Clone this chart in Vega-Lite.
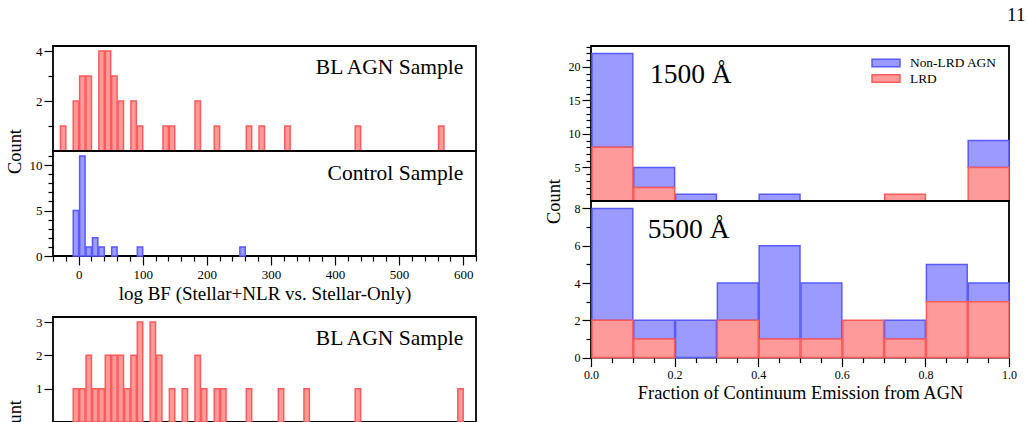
{
  "$schema": "https://vega.github.io/schema/vega-lite/v6.json",
  "padding": {"left": 4, "top": 5, "right": 5, "bottom": 5},
  "config": {
    "font": "Liberation Serif",
    "view": {"stroke": "black", "strokeWidth": 1.8},
    "axis": {
      "domain": false,
      "grid": false,
      "tickColor": "black",
      "tickWidth": 1.2,
      "labelColor": "black",
      "labelFont": "Liberation Serif",
      "titleFont": "Liberation Serif",
      "titleFontWeight": "normal",
      "titleColor": "black",
      "labelFlush": false,
      "labelOverlap": false,
      "labelPadding": 2
    },
    "text": {"font": "Liberation Serif", "color": "black"}
  },
  "title": {"text": "11", "anchor": "end", "frame": "bounds", "fontSize": 19, "font": "Liberation Serif", "fontWeight": "normal", "color": "black", "offset": 15, "dx": 8},
  "datasets": {
    "blAgnUpper": [
      {"lo": -30, "hi": -20, "count": 1},
      {"lo": -10, "hi": 0, "count": 2},
      {"lo": 0, "hi": 10, "count": 3},
      {"lo": 10, "hi": 20, "count": 3},
      {"lo": 30, "hi": 40, "count": 4},
      {"lo": 40, "hi": 50, "count": 4},
      {"lo": 50, "hi": 60, "count": 3},
      {"lo": 60, "hi": 70, "count": 2},
      {"lo": 80, "hi": 90, "count": 2},
      {"lo": 90, "hi": 100, "count": 1},
      {"lo": 130, "hi": 140, "count": 1},
      {"lo": 140, "hi": 150, "count": 1},
      {"lo": 180, "hi": 190, "count": 2},
      {"lo": 210, "hi": 220, "count": 1},
      {"lo": 260, "hi": 270, "count": 1},
      {"lo": 280, "hi": 290, "count": 1},
      {"lo": 320, "hi": 330, "count": 1},
      {"lo": 430, "hi": 440, "count": 1},
      {"lo": 560, "hi": 570, "count": 1}
    ],
    "control": [
      {"lo": -10, "hi": 0, "count": 5},
      {"lo": 0, "hi": 10, "count": 11},
      {"lo": 10, "hi": 20, "count": 1},
      {"lo": 20, "hi": 30, "count": 2},
      {"lo": 30, "hi": 40, "count": 1},
      {"lo": 50, "hi": 60, "count": 1},
      {"lo": 90, "hi": 100, "count": 1},
      {"lo": 250, "hi": 260, "count": 1}
    ],
    "blAgnLower": [
      {"lo": -10, "hi": 0, "count": 1},
      {"lo": 0, "hi": 10, "count": 1},
      {"lo": 10, "hi": 20, "count": 2},
      {"lo": 20, "hi": 30, "count": 1},
      {"lo": 30, "hi": 40, "count": 1},
      {"lo": 40, "hi": 50, "count": 2},
      {"lo": 50, "hi": 60, "count": 2},
      {"lo": 60, "hi": 70, "count": 2},
      {"lo": 70, "hi": 80, "count": 1},
      {"lo": 80, "hi": 90, "count": 2},
      {"lo": 90, "hi": 100, "count": 3},
      {"lo": 110, "hi": 120, "count": 3},
      {"lo": 120, "hi": 130, "count": 2},
      {"lo": 140, "hi": 150, "count": 1},
      {"lo": 160, "hi": 170, "count": 1},
      {"lo": 180, "hi": 190, "count": 2},
      {"lo": 190, "hi": 200, "count": 1},
      {"lo": 210, "hi": 220, "count": 1},
      {"lo": 220, "hi": 230, "count": 1},
      {"lo": 260, "hi": 270, "count": 1},
      {"lo": 310, "hi": 320, "count": 1},
      {"lo": 350, "hi": 360, "count": 1},
      {"lo": 430, "hi": 440, "count": 1},
      {"lo": 590, "hi": 600, "count": 1}
    ],
    "frac1500": [
      {"sample": "Non-LRD AGN", "lo": 0.0, "hi": 0.1, "count": 14},
      {"sample": "Non-LRD AGN", "lo": 0.1, "hi": 0.2, "count": 3},
      {"sample": "Non-LRD AGN", "lo": 0.2, "hi": 0.3, "count": 1},
      {"sample": "Non-LRD AGN", "lo": 0.4, "hi": 0.5, "count": 1},
      {"sample": "Non-LRD AGN", "lo": 0.9, "hi": 1.0, "count": 4},
      {"sample": "LRD", "lo": 0.0, "hi": 0.1, "count": 8},
      {"sample": "LRD", "lo": 0.1, "hi": 0.2, "count": 2},
      {"sample": "LRD", "lo": 0.7, "hi": 0.8, "count": 1},
      {"sample": "LRD", "lo": 0.9, "hi": 1.0, "count": 5}
    ],
    "frac5500": [
      {"sample": "Non-LRD AGN", "lo": 0.0, "hi": 0.1, "count": 6},
      {"sample": "Non-LRD AGN", "lo": 0.1, "hi": 0.2, "count": 1},
      {"sample": "Non-LRD AGN", "lo": 0.2, "hi": 0.3, "count": 2},
      {"sample": "Non-LRD AGN", "lo": 0.3, "hi": 0.4, "count": 2},
      {"sample": "Non-LRD AGN", "lo": 0.4, "hi": 0.5, "count": 5},
      {"sample": "Non-LRD AGN", "lo": 0.5, "hi": 0.6, "count": 3},
      {"sample": "Non-LRD AGN", "lo": 0.7, "hi": 0.8, "count": 1},
      {"sample": "Non-LRD AGN", "lo": 0.8, "hi": 0.9, "count": 2},
      {"sample": "Non-LRD AGN", "lo": 0.9, "hi": 1.0, "count": 1},
      {"sample": "LRD", "lo": 0.0, "hi": 0.1, "count": 2},
      {"sample": "LRD", "lo": 0.1, "hi": 0.2, "count": 1},
      {"sample": "LRD", "lo": 0.3, "hi": 0.4, "count": 2},
      {"sample": "LRD", "lo": 0.4, "hi": 0.5, "count": 1},
      {"sample": "LRD", "lo": 0.5, "hi": 0.6, "count": 1},
      {"sample": "LRD", "lo": 0.6, "hi": 0.7, "count": 2},
      {"sample": "LRD", "lo": 0.7, "hi": 0.8, "count": 1},
      {"sample": "LRD", "lo": 0.8, "hi": 0.9, "count": 3},
      {"sample": "LRD", "lo": 0.9, "hi": 1.0, "count": 3}
    ]
  },
  "spacing": 65,
  "hconcat": [
    {
      "bounds": "flush",
      "spacing": 0,
      "vconcat": [
        {
          "width": 423,
          "height": 105,
          "data": {"name": "blAgnUpper"},
          "resolve": {"axis": {"x": "independent", "y": "independent"}},
          "layer": [
            {
              "mark": {"type": "bar", "fill": "#ff9a9a", "stroke": "#ff5a5a", "strokeWidth": 1.5},
              "encoding": {
                "x": {"field": "lo", "type": "quantitative", "bin": "binned", "scale": {"domain": [-40, 620], "nice": false, "zero": false}, "axis": null},
                "x2": {"field": "hi"},
                "y": {
                  "field": "count", "type": "quantitative",
                  "scale": {"domain": [0, 4.2], "nice": false},
                  "axis": {
                    "orient": "left",
                    "values": [1, 2, 3, 4],
                    "labelExpr": "datum.value % 2 === 0 ? datum.label : ''",
                    "tickSize": {"condition": {"test": "datum.value % 2 === 0", "value": 9}, "value": 5},
                    "labelFontSize": 13,
                    "title": "Count",
                    "titleFontSize": 18.4,
                    "titleAngle": 270,
                    "titleAlign": "center",
                    "titleBaseline": "top",
                    "titleX": -48,
                    "titleY": 105
                  }
                }
              }
            },
            {
              "data": {"values": [{}]},
              "mark": {"type": "text", "align": "right", "baseline": "alphabetic", "fontSize": 21.5, "text": "BL AGN Sample"},
              "encoding": {
                "x": {"datum": 600, "type": "quantitative", "axis": null},
                "y": {"datum": 3.09, "type": "quantitative", "axis": null}
              }
            }
          ]
        },
        {
          "width": 423,
          "height": 105,
          "data": {"name": "control"},
          "resolve": {"axis": {"x": "independent", "y": "independent"}},
          "layer": [
            {
              "mark": {"type": "bar", "fill": "#9a9aff", "stroke": "#5a5aff", "strokeWidth": 1.5},
              "encoding": {
                "x": {
                  "field": "lo", "type": "quantitative", "bin": "binned",
                  "scale": {"domain": [-40, 620], "nice": false, "zero": false},
                  "axis": {
                    "orient": "bottom",
                    "values": [-40, -20, 0, 20, 40, 60, 80, 100, 120, 140, 160, 180, 200, 220, 240, 260, 280, 300, 320, 340, 360, 380, 400, 420, 440, 460, 480, 500, 520, 540, 560, 580, 600, 620],
                    "labelExpr": "datum.value % 100 === 0 ? datum.label : ''",
                    "tickSize": {"condition": {"test": "datum.value % 100 === 0", "value": 9}, "value": 5},
                    "labelFontSize": 13,
                    "labelPadding": 3,
                    "title": "log BF (Stellar+NLR vs. Stellar-Only)",
                    "titleFontSize": 19,
                    "titlePadding": 3
                  }
                },
                "x2": {"field": "hi"},
                "y": {
                  "field": "count", "type": "quantitative",
                  "scale": {"domain": [0, 11.55], "nice": false},
                  "axis": {
                    "orient": "left",
                    "values": [0, 1, 2, 3, 4, 5, 6, 7, 8, 9, 10, 11],
                    "labelExpr": "datum.value % 5 === 0 ? datum.label : ''",
                    "tickSize": {"condition": {"test": "datum.value % 5 === 0", "value": 9}, "value": 5},
                    "labelFontSize": 13,
                    "title": null
                  }
                }
              }
            },
            {
              "data": {"values": [{}]},
              "mark": {"type": "text", "align": "right", "baseline": "alphabetic", "fontSize": 21.5, "text": "Control Sample"},
              "encoding": {
                "x": {"datum": 600, "type": "quantitative", "axis": null},
                "y": {"datum": 8.4, "type": "quantitative", "axis": null}
              }
            }
          ]
        },
        {
          "width": 423,
          "height": 61,
          "view": {"stroke": null},
          "data": {"values": [{}]},
          "mark": {"type": "text", "text": ""},
          "encoding": {}
        },
        {
          "width": 423,
          "height": 105,
          "data": {"name": "blAgnLower"},
          "resolve": {"axis": {"x": "independent", "y": "independent"}},
          "layer": [
            {
              "mark": {"type": "bar", "fill": "#ff9a9a", "stroke": "#ff5a5a", "strokeWidth": 1.5},
              "encoding": {
                "x": {"field": "lo", "type": "quantitative", "bin": "binned", "scale": {"domain": [-40, 620], "nice": false, "zero": false}, "axis": null},
                "x2": {"field": "hi"},
                "y": {
                  "field": "count", "type": "quantitative",
                  "scale": {"domain": [0, 3.15], "nice": false},
                  "axis": {
                    "orient": "left",
                    "values": [1, 2, 3],
                    "tickSize": 9,
                    "labelFontSize": 13,
                    "title": "Count",
                    "titleFontSize": 18.4,
                    "titleAngle": 270,
                    "titleAlign": "center",
                    "titleBaseline": "top",
                    "titleX": -48,
                    "titleY": 105
                  }
                }
              }
            },
            {
              "data": {"values": [{}]},
              "mark": {"type": "text", "align": "right", "baseline": "alphabetic", "fontSize": 21.5, "text": "BL AGN Sample"},
              "encoding": {
                "x": {"datum": 600, "type": "quantitative", "axis": null},
                "y": {"datum": 2.32, "type": "quantitative", "axis": null}
              }
            }
          ]
        }
      ]
    },
    {
      "bounds": "flush",
      "spacing": 0,
      "resolve": {"scale": {"fill": "independent", "stroke": "independent"}},
      "vconcat": [
        {
          "width": 418,
          "height": 155,
          "data": {"name": "frac1500"},
          "resolve": {"axis": {"x": "independent", "y": "independent"}},
          "layer": [
            {
              "mark": {"type": "bar", "strokeWidth": 1.5},
              "encoding": {
                "x": {"field": "lo", "type": "quantitative", "bin": "binned", "scale": {"domain": [0, 1], "nice": false, "zero": false}, "axis": null},
                "x2": {"field": "hi"},
                "y": {
                  "field": "count", "type": "quantitative", "stack": "zero",
                  "scale": {"domain": [0, 23.1], "nice": false},
                  "axis": {
                    "orient": "left",
                    "values": [1, 2, 3, 4, 5, 6, 7, 8, 9, 10, 11, 12, 13, 14, 15, 16, 17, 18, 19, 20, 21, 22, 23],
                    "labelExpr": "datum.value % 5 === 0 ? datum.label : ''",
                    "tickSize": {"condition": {"test": "datum.value % 5 === 0", "value": 9}, "value": 5},
                    "labelFontSize": 12,
                    "title": "Count",
                    "titleFontSize": 18.4,
                    "titleAngle": 270,
                    "titleAlign": "center",
                    "titleBaseline": "top",
                    "titleX": -46.5,
                    "titleY": 155
                  }
                },
                "order": {"field": "sample", "type": "nominal", "sort": "ascending"},
                "fill": {
                  "field": "sample", "type": "nominal",
                  "scale": {"domain": ["Non-LRD AGN", "LRD"], "range": ["#9a9aff", "#ff9a9a"]},
                  "legend": {
                    "orient": "none", "legendX": 288, "legendY": 10, "title": null, "padding": 0,
                    "symbolType": "M-2.33,-0.64H2.33V0.64H-2.33Z", "symbolSize": 144, "symbolStrokeWidth": 1.5, "symbolOpacity": 1,
                    "labelFont": "Liberation Serif", "labelFontSize": 13.4, "labelColor": "black", "labelOffset": 17, "rowPadding": 1.5
                  }
                },
                "stroke": {
                  "field": "sample", "type": "nominal",
                  "scale": {"domain": ["Non-LRD AGN", "LRD"], "range": ["#5a5aff", "#ff5a5a"]},
                  "legend": {
                    "orient": "none", "legendX": 288, "legendY": 10, "title": null, "padding": 0,
                    "symbolType": "M-2.33,-0.64H2.33V0.64H-2.33Z", "symbolSize": 144, "symbolStrokeWidth": 1.5, "symbolOpacity": 1,
                    "labelFont": "Liberation Serif", "labelFontSize": 13.4, "labelColor": "black", "labelOffset": 17, "rowPadding": 1.5
                  }
                }
              }
            },
            {
              "data": {"values": [{}]},
              "mark": {"type": "text", "align": "left", "baseline": "alphabetic", "fontSize": 27.5, "text": "1500 Å"},
              "encoding": {
                "x": {"datum": 0.141, "type": "quantitative", "axis": null},
                "y": {"datum": 17.65, "type": "quantitative", "axis": null}
              }
            }
          ]
        },
        {
          "width": 418,
          "height": 156.6,
          "data": {"name": "frac5500"},
          "resolve": {"axis": {"x": "independent", "y": "independent"}},
          "layer": [
            {
              "mark": {"type": "bar", "strokeWidth": 1.5},
              "encoding": {
                "x": {
                  "field": "lo", "type": "quantitative", "bin": "binned",
                  "scale": {"domain": [0, 1], "nice": false, "zero": false},
                  "axis": {
                    "orient": "bottom",
                    "values": [0, 0.05, 0.1, 0.15, 0.2, 0.25, 0.3, 0.35, 0.4, 0.45, 0.5, 0.55, 0.6, 0.65, 0.7, 0.75, 0.8, 0.85, 0.9, 0.95, 1],
                    "labelExpr": "abs(datum.value * 5 - round(datum.value * 5)) < 0.001 ? format(datum.value, '.1f') : ''",
                    "tickSize": {"condition": {"test": "abs(datum.value * 5 - round(datum.value * 5)) < 0.001", "value": 9}, "value": 5},
                    "labelFontSize": 12,
                    "labelPadding": 3,
                    "title": "Fraction of Continuum Emission from AGN",
                    "titleFontSize": 18.4,
                    "titlePadding": 3
                  }
                },
                "x2": {"field": "hi"},
                "y": {
                  "field": "count", "type": "quantitative", "stack": "zero",
                  "scale": {"domain": [0, 8.4], "nice": false},
                  "axis": {
                    "orient": "left",
                    "values": [0, 1, 2, 3, 4, 5, 6, 7, 8],
                    "labelExpr": "datum.value % 2 === 0 ? datum.label : ''",
                    "tickSize": {"condition": {"test": "datum.value % 2 === 0", "value": 9}, "value": 5},
                    "labelFontSize": 12,
                    "title": null
                  }
                },
                "order": {"field": "sample", "type": "nominal", "sort": "ascending"},
                "fill": {
                  "field": "sample", "type": "nominal",
                  "scale": {"domain": ["Non-LRD AGN", "LRD"], "range": ["#9a9aff", "#ff9a9a"]},
                  "legend": null
                },
                "stroke": {
                  "field": "sample", "type": "nominal",
                  "scale": {"domain": ["Non-LRD AGN", "LRD"], "range": ["#5a5aff", "#ff5a5a"]},
                  "legend": null
                }
              }
            },
            {
              "data": {"values": [{}]},
              "mark": {"type": "text", "align": "left", "baseline": "alphabetic", "fontSize": 27.5, "text": "5500 Å"},
              "encoding": {
                "x": {"datum": 0.136, "type": "quantitative", "axis": null},
                "y": {"datum": 6.44, "type": "quantitative", "axis": null}
              }
            }
          ]
        }
      ]
    }
  ]
}
